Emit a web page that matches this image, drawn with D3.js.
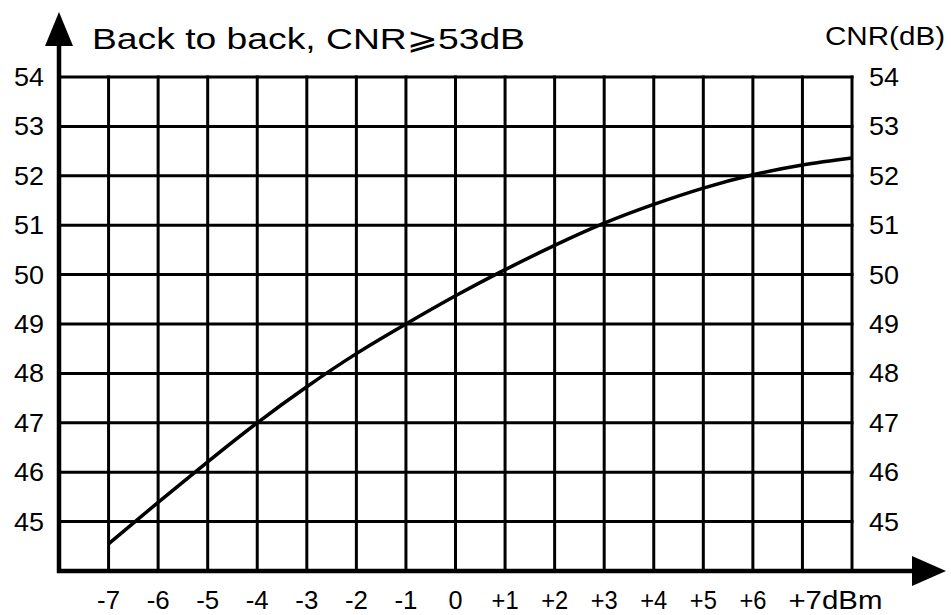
<!DOCTYPE html>
<html>
<head>
<meta charset="utf-8">
<script src="https://cdn.jsdelivr.net/npm/d3@7"></script>
<style>
  body { margin: 0; background: #fff; }
  text { font-family: "Liberation Sans", Arial, sans-serif; fill: #000; }
</style>
</head>
<body>
<div id="chart"></div>
<script>
// power in dBm (x) and CNR in dB (y)
const power = [-7, -6, -5, -4, -3, -2, -1, 0, 1, 2, 3, 4, 5, 6, 7, 8]
const cnr = [44.55, 45.39, 46.21, 47.0, 47.73, 48.4, 49.0, 49.57, 50.1, 50.59, 51.04, 51.42, 51.75, 52.02, 52.22, 52.36]
const xTicks = [-7, -6, -5, -4, -3, -2, -1, 0, 1, 2, 3, 4, 5, 6, 7]
const yTicks = [45, 46, 47, 48, 49, 50, 51, 52, 53, 54]

const W = 951, H = 615
const svg = d3.select('#chart').append('svg')
    .attr('width', W).attr('height', H)

const x = d3.scaleLinear().domain([-8, 8]).range([59, 852])
const y = d3.scaleLinear().domain([44, 54]).range([571, 77])

// grid
const grid = svg.append('g').attr('stroke', '#000').attr('stroke-width', 3)
grid.selectAll('line.v').data(d3.range(-7, 9))
  .enter().append('line')
    .attr('x1', d => x(d)).attr('x2', d => x(d))
    .attr('y1', y(54) - 1.5).attr('y2', y(44))
grid.selectAll('line.h').data(yTicks)
  .enter().append('line')
    .attr('x1', x(-8)).attr('x2', x(8) + 1.5)
    .attr('y1', d => y(d)).attr('y2', d => y(d))

// axes with arrows
svg.append('line')
    .attr('x1', x(-8)).attr('x2', x(-8))
    .attr('y1', y(44) + 2).attr('y2', 40)
    .attr('stroke', '#000').attr('stroke-width', 4.5)
svg.append('line')
    .attr('x1', x(-8) - 2).attr('x2', 918)
    .attr('y1', y(44)).attr('y2', y(44))
    .attr('stroke', '#000').attr('stroke-width', 4.5)
svg.append('path')
    .attr('d', `M${x(-8)},12 L${x(-8) + 14},46 L${x(-8) - 14},46 Z`)
svg.append('path')
    .attr('d', `M946,${y(44)} L912,${y(44) - 15} L912,${y(44) + 15} Z`)

// curve
const line = d3.line()
    .x((d, i) => x(power[i]))
    .y(d => y(d))
    .curve(d3.curveNatural)
svg.append('path')
    .datum(cnr)
    .attr('d', line)
    .attr('fill', 'none')
    .attr('stroke', '#000')
    .attr('stroke-width', 3.5)

// y labels both sides
svg.append('g').selectAll('text').data(yTicks)
  .enter().append('text')
    .attr('x', 44).attr('y', d => y(d) + 9)
    .attr('text-anchor', 'end')
    .attr('textLength', 30).attr('lengthAdjust', 'spacingAndGlyphs')
    .style('font-size', '25px')
    .text(d => d)
svg.append('g').selectAll('text').data(yTicks)
  .enter().append('text')
    .attr('x', 869).attr('y', d => y(d) + 9)
    .attr('textLength', 30).attr('lengthAdjust', 'spacingAndGlyphs')
    .style('font-size', '25px')
    .text(d => d)

// x labels
const fmt = d => d > 0 ? '+' + d : String(d)
svg.append('g').selectAll('text').data(xTicks)
  .enter().append('text')
    .attr('x', d => d === 7 ? x(d) - 14 : x(d))
    .attr('y', 609)
    .attr('text-anchor', d => d === 7 ? 'start' : 'middle')
    .attr('textLength', d => d === 7 ? 94 : (d > 0 ? 27 : (d < 0 ? 23 : 14)))
    .attr('lengthAdjust', 'spacingAndGlyphs')
    .style('font-size', '25px')
    .text(d => d === 7 ? fmt(d) + 'dBm' : fmt(d))

// titles
const title = svg.append('text')
    .attr('x', 92).attr('y', 49)
    .attr('textLength', 433).attr('lengthAdjust', 'spacingAndGlyphs')
    .style('font-size', '30px')
title.append('tspan').text('Back to back, CNR')
title.append('tspan').style('font-family', 'DejaVu Sans').text('⩾')
title.append('tspan').text('53dB')

svg.append('text')
    .attr('x', 825).attr('y', 45)
    .attr('textLength', 120).attr('lengthAdjust', 'spacingAndGlyphs')
    .style('font-size', '25px')
    .text('CNR(dB)')
</script>
</body>
</html>
